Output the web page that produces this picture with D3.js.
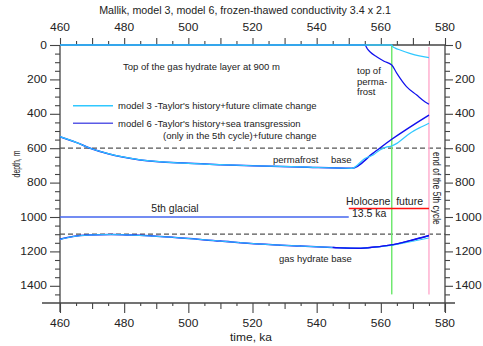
<!DOCTYPE html>
<html>
<head>
<meta charset="utf-8">
<script src="https://cdn.jsdelivr.net/npm/d3@7"></script>
<style>
  body { margin: 0; background: #fff; }
  svg { display: block; font-family: "Liberation Sans", Arial, sans-serif; }
</style>
</head>
<body>
<svg id="chart" width="483" height="346"></svg>
<script>
// tick labels
const xLabels = [460, 480, 500, 520, 540, 560, 580];
const yLabels = [0, 200, 400, 600, 800, 1000, 1200, 1400];

// model 3 (Taylor's history + future climate change) - [time ka, depth m]
const m3PermTop = [[460, 0], [563.4, 0], [563.7, 9], [564.5, 18], [566, 29], [569, 48], [572, 63], [575, 73]];
const m3PermBase = [[460, 533], [465, 566], [469.4, 600], [475, 632], [485, 668], [500, 688], [510, 696], [520, 702],
                    [535, 709], [551, 717], [555, 660], [557.7, 638], [559.7, 610], [561.5, 595], [563.4, 587],
                    [565, 572], [569, 514], [572, 482], [575, 455]];
const m3HydBase = [[460, 1130], [464, 1114], [469, 1105], [476, 1102], [482, 1105], [495, 1118], [510, 1140],
                   [522, 1157], [535, 1169], [545, 1177], [553, 1182], [558, 1176], [563.4, 1165], [566, 1156],
                   [570, 1141], [575, 1122]];

// model 6 (Taylor's history + sea transgression) - [time ka, depth m]
const m6PermTop = [[460, 0], [555, 0], [555.8, 22], [556.6, 39], [558.7, 68], [561, 94], [563.4, 116],
                   [565, 165], [568, 242], [571.2, 291], [573, 320], [575, 345]];
const m6PermBase = [[460, 533], [465, 566], [469.4, 600], [475, 632], [485, 668], [500, 688], [510, 696], [520, 702],
                    [535, 709], [551, 717], [557.5, 630], [563.4, 548], [575, 407]];
const m6HydBase = [[460, 1130], [464, 1114], [469, 1105], [476, 1102], [482, 1105], [495, 1118], [510, 1140],
                   [522, 1157], [535, 1169], [545, 1177], [553, 1182], [558, 1175], [563.4, 1162], [569, 1138],
                   [575, 1108]];

// reference levels
const glacial = [[460, 1000], [550, 1000]];
const holocene = [[550, 950], [575, 950]];
const dashedDepths = [600, 1100];
const markerTimes = [563.4, 575];

const svg = d3.select('#chart');
const x = d3.scaleLinear().domain([460, 580]).range([60, 445]);
const y = d3.scaleLinear().domain([0, 1500]).range([45, 303]);
const axisColor = '#444';
const wide = 1.2; // axis text in the source is stretched sideways

function txt(px, py, s, opt = {}) {
  const t = svg.append('text')
    .attr('transform', `translate(${px},${py}) rotate(${opt.rotate || 0}) scale(${opt.sx || 1},1)`)
    .attr('text-anchor', opt.anchor || 'start')
    .attr('font-size', opt.size || 10)
    .attr('fill', opt.fill || '#222')
    .style('white-space', 'pre')
    .text(s);
  if (opt.dy) t.attr('dy', opt.dy);
  return t;
}

// ticks
function ticks(axis, vals, size, tx, ty) {
  svg.append('g')
    .attr('transform', `translate(${tx},${ty})`)
    .call(axis.tickValues(vals).tickSize(size).tickFormat(''))
    .call(g => g.select('.domain').remove())
    .call(g => g.selectAll('line').attr('stroke', axisColor).attr('stroke-width', 1.1));
}
ticks(d3.axisBottom(x), d3.range(460, 581, 20), 10, 0, 303);
ticks(d3.axisBottom(x), d3.range(470, 580, 20), 6, 0, 303);
ticks(d3.axisBottom(x), d3.range(465, 580, 10), 3, 0, 303);
ticks(d3.axisTop(x), d3.range(460, 581, 10), 7, 0, 45);
ticks(d3.axisTop(x), d3.range(465, 580, 10), 4, 0, 45);
ticks(d3.axisLeft(y), d3.range(0, 1401, 200), 10, 60, 0);
ticks(d3.axisLeft(y), d3.range(50, 1500, 50).filter(d => d % 200), 5, 60, 0);
ticks(d3.axisRight(y), d3.range(0, 1401, 200), 8, 445, 0);
ticks(d3.axisRight(y), d3.range(50, 1500, 50).filter(d => d % 200), 5, 445, 0);

// frame
const frame = svg.append('g').attr('stroke', axisColor).attr('stroke-width', 1.3);
frame.append('line').attr('x1', 60).attr('x2', 445).attr('y1', 45).attr('y2', 45);
frame.append('line').attr('x1', 42).attr('x2', 455).attr('y1', 303).attr('y2', 303);
frame.append('line').attr('x1', 60).attr('x2', 60).attr('y1', 45).attr('y2', 312);
frame.append('line').attr('x1', 445).attr('x2', 445).attr('y1', 45).attr('y2', 312);

// tick labels
xLabels.forEach(v => {
  txt(x(v), 31, v, { anchor: 'middle', size: 10, sx: wide });
  txt(x(v), 327, v, { anchor: 'middle', size: 10, sx: wide });
});
yLabels.forEach(v => {
  txt(47, y(v), v, { anchor: 'end', size: 10, dy: '0.36em', sx: wide });
  txt(455, y(v), v, { anchor: 'start', size: 10, dy: '0.36em', sx: wide });
});

// titles
txt(245, 14, 'Mallik, model 3, model 6, frozen-thawed conductivity 3.4 x 2.1', { anchor: 'middle', size: 10, sx: 1.07 });
txt(251, 341, 'time, ka', { anchor: 'middle', size: 10, sx: wide });
txt(20, 164, 'depth, m', { anchor: 'middle', size: 10.5, rotate: -90, sx: 0.66 });

// dashed levels
svg.selectAll('.dash').data(dashedDepths).enter().append('line')
  .attr('class', 'dash')
  .attr('x1', x(460)).attr('x2', x(580))
  .attr('y1', d => y(d)).attr('y2', d => y(d))
  .attr('stroke', '#555').attr('stroke-width', 1.2).attr('stroke-dasharray', '5,3');

// vertical markers
const markerColors = ['#70e870', '#ffb0d0'];
const markerTop = [0, 12];
svg.selectAll('.marker').data(markerTimes).enter().append('line')
  .attr('class', 'marker')
  .attr('x1', d => x(d)).attr('x2', d => x(d))
  .attr('y1', (d, i) => y(markerTop[i])).attr('y2', y(1450))
  .attr('stroke', (d, i) => markerColors[i]).attr('stroke-width', 1.5);

const line = d3.line().x(d => x(d[0])).y(d => y(d[1]));
const smooth = d3.line().x(d => x(d[0])).y(d => y(d[1])).curve(d3.curveMonotoneX);

function path(data, color, w, gen) {
  svg.append('path').datum(data)
    .attr('d', gen || smooth)
    .attr('fill', 'none')
    .attr('stroke', color)
    .attr('stroke-width', w);
}

path(glacial, '#4466ee', 1.5, line);
path(holocene, '#ff1010', 1.5, line);

const blue = '#1010ee', cyan = '#30c8ff';
path(m6PermTop, blue, 1.2);
path(m6PermBase, blue, 1.5);
path(m6HydBase, blue, 1.5);
path(m3PermTop, cyan, 1.3);
path(m3PermBase, cyan, 1.2);
path(m3HydBase, cyan, 1);
path(m6HydBase.filter(d => d[0] > 540), blue, 1.2);

// legend
const legend = [
  { color: cyan, ly: 105.7, lines: ["model 3 -Taylor's history+future climate change"] },
  { color: '#5a5ae6', ly: 123.3, lines: ["model 6 -Taylor's history+sea transgression", '(only in the 5th cycle)+future change'] }
];
legend.forEach(d => {
  svg.append('line').attr('x1', 73).attr('x2', 113).attr('y1', d.ly).attr('y2', d.ly)
    .attr('stroke', d.color).attr('stroke-width', 1.6);
});
txt(118, 109, legend[0].lines[0], { size: 9.5 });
txt(118, 127, legend[1].lines[0], { size: 9.5 });
txt(163, 139, legend[1].lines[1], { size: 9.5 });

// annotations
txt(123, 70, 'Top of the gas hydrate layer at 900 m', { size: 9.5 });
txt(357, 74, 'top of', { size: 9.5 });
txt(357, 85, 'perma-', { size: 9.5 });
txt(357, 95, 'frost', { size: 9.5 });
txt(273, 163, 'permafrost', { size: 9.5 });
txt(331, 163, 'base', { size: 9.5 });
txt(175, 212, '5th glacial', { anchor: 'middle', size: 10.5 });
txt(346, 205, 'Holocene  future', { size: 10.5 });
txt(352, 217, '13.5 ka', { size: 10.5 });
txt(279, 262, 'gas hydrate base', { size: 9.5 });
txt(433, 152, 'end of the 5th cycle', { size: 10, rotate: 90, sx: 0.84 });
</script>
</body>
</html>
